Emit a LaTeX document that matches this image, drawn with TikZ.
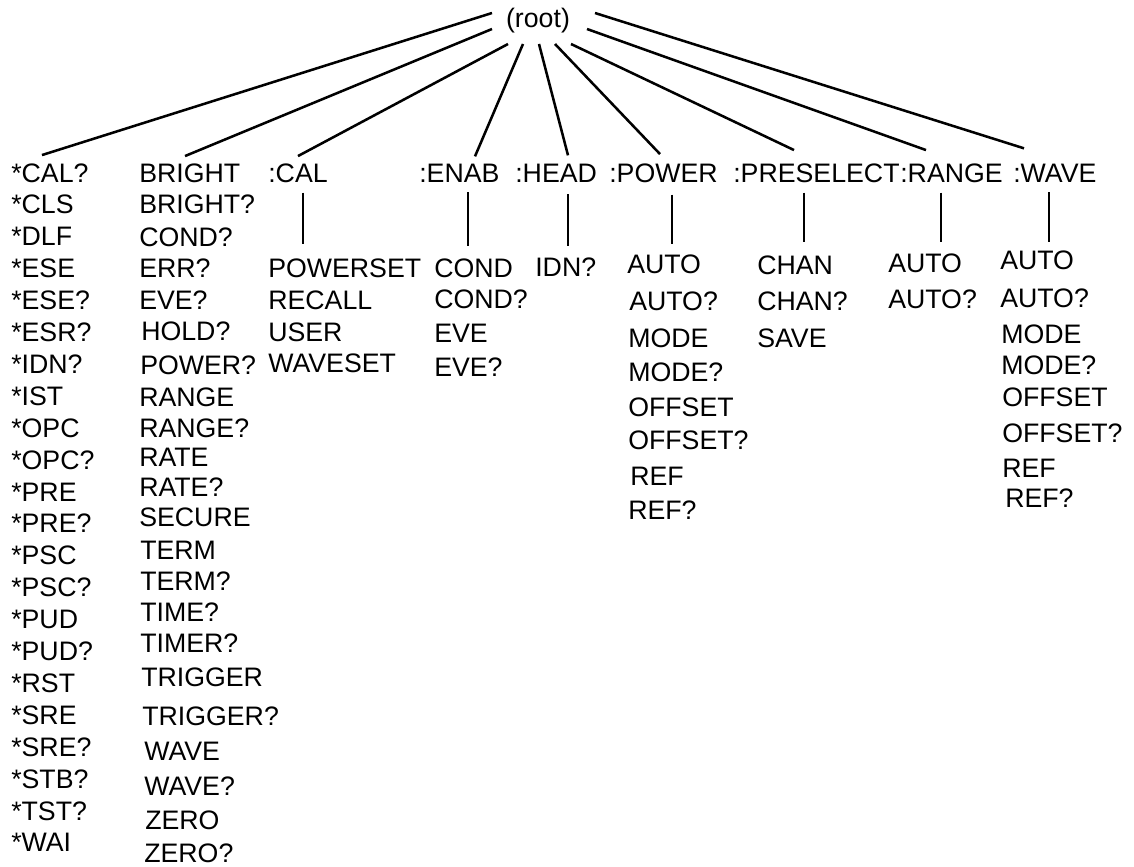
\documentclass[tikz,border=0pt]{standalone}
\usepackage{fontspec}
\setmainfont{Liberation Sans}
\usetikzlibrary{calc}

\begin{document}
\begin{tikzpicture}
  [x=0.025cm,y=-0.025cm,
   every node/.style={anchor=base west,inner sep=0pt,font=\fontsize{19}{23}\selectfont},
   link/.style={line width=1.8pt}]
\useasboundingbox (0,0) rectangle (1134,867);

\node (root)[anchor=base] at (538,27.5) {(root)};

% first level
\node (c1) at (11,182) {*CAL?};
  \node (c2) at (139,182) {BRIGHT};
  \node (c3) at (268,182) {:CAL};
  \node (c4) at (419,182) {:ENAB};
  \node (c5) at (515,182) {:HEAD};
  \node (c6) at (609,182) {:POWER};
  \node (c7) at (733,182) {:PRESELECT};
  \node (c8) at (900,182) {:RANGE};
  \node (c9) at (1013,182) {:WAVE};

% common commands
\foreach \t [count=\i] in {*CLS,*DLF,*ESE,*ESE?,*ESR?,*IDN?,*IST,*OPC,*OPC?,*PRE,*PRE?,
   *PSC,*PSC?,*PUD,*PUD?,*RST,*SRE,*SRE?,*STB?,*TST?,*WAI}
  \node (s\i) at (11,{182+31.9*\i}) {\t};

\foreach \x/\y/\t [count=\i] in {139/205/BRIGHT?,139/237/COND?,139/268/ERR?,139/300/EVE?,
   141/331/HOLD?,140/365/POWER?,139/397/RANGE,139/428/RANGE?,139/457/RATE,139/487/RATE?,
   139/517/SECURE,140/550/TERM,140/581/TERM?,140/612/TIME?,140/643/TIMER?,141/677/TRIGGER,
   142/716/TRIGGER?,144/751/WAVE,144/786/WAVE?,145/820/ZERO,144/853/ZERO?}
  \node (b\i) at (\x,\y+9) {\t};

% subsystem commands
\foreach \x/\y/\t [count=\i] in {268/268/POWERSET,268/300/RECALL,268/332/USER,268/363/WAVESET}
  \node (cal\i) at (\x,\y+9) {\t};
\foreach \x/\y/\t [count=\i] in {434/268/COND,434/299/COND?,434/333/EVE,434/367/EVE?}
  \node (enab\i) at (\x,\y+9) {\t};
\node (head1) at (535,276) {IDN?};
\foreach \x/\y/\t [count=\i] in {627/264/AUTO,629/301/AUTO?,628/338/MODE,628/372/MODE?,
   628/407/OFFSET,628/440/OFFSET?,630/476/REF,628/510/REF?}
  \node (pow\i) at (\x,\y+9) {\t};
\foreach \x/\y/\t [count=\i] in {757/265/CHAN,757/301/CHAN?,757/338/SAVE}
  \node (pre\i) at (\x,\y+9) {\t};
\foreach \x/\y/\t [count=\i] in {888/263/AUTO,888/299/AUTO?}
  \node (rng\i) at (\x,\y+9) {\t};
\foreach \x/\y/\t [count=\i] in {1000/260/AUTO,1000/298/AUTO?,1001/334/MODE,1001/365/MODE?,
   1002/397/OFFSET,1002/433/OFFSET?,1002/468/REF,1005/498/REF?}
  \node (wav\i) at (\x,\y+9) {\t};

 \path [link] ($(root.base)+(-46,-14.5)$) edge ($(c1.north west)+(31,-8)$);
 \path [link] ($(root.base)+(-46,1.5)$) edge ($(c2.north west)+(46,-7)$);
   \path [link] ($(root.base)+(-30,16.5)$) edge ($(c3.north west)+(30,-7)$);
 \path [link] ($(root.base)+(-15,16.5)$) edge ($(c4.north west)+(56,-7)$);
 \path [link] ($(root.base)+(1,16.5)$) edge ($(c5.north west)+(53,-8)$);
   \path [link] ($(root.base)+(17,16.5)$) edge ($(c6.north west)+(51,-9)$);
 \path [link] ($(root.base)+(33,16.5)$) edge ($(c7.north west)+(61,-13)$);
 \path [link] ($(root.base)+(49,1.5)$) edge ($(c8.north west)+(26,-13)$);
   \path [link] ($(root.base)+(57,-14.5)$) edge ($(c9.north west)+(11,-15)$);

 \path [link] ($(c3.south west)+(35,10)$) edge ($(cal1.north west)+(35,-14)$);
 \path [link] ($(c4.south west)+(49,10)$) edge ($(enab1.north west)+(34,-12)$);
 \path [link] ($(c5.south west)+(53,12)$) edge ($(head1.north west)+(33,-11)$);
 \path [link] ($(c6.south west)+(63,12)$) edge ($(pow1.north west)+(45,-10)$);
 \path [link] ($(c7.south west)+(71,10)$) edge ($(pre1.north west)+(47,-13)$);
 \path [link] ($(c8.south west)+(41,10)$) edge ($(rng1.north west)+(53,-11)$);
 \path [link] ($(c9.south west)+(36,10)$) edge ($(wav1.north west)+(49,-8)$);
;
\end{tikzpicture}
\end{document}
